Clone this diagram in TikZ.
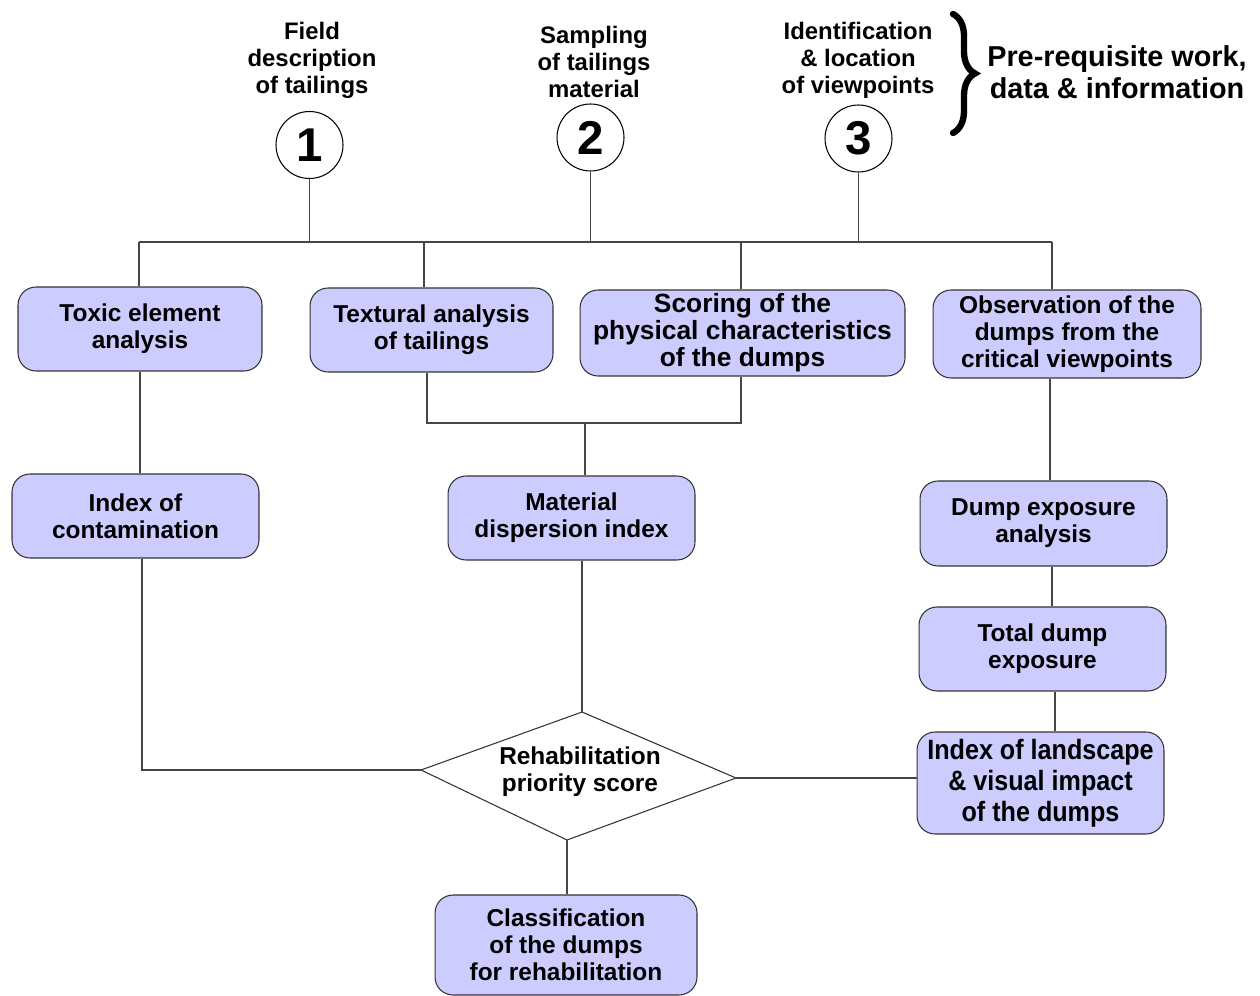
\documentclass[tikz,border=0pt]{standalone}
\usepackage{fontspec}
\setmainfont{Liberation Sans}
\newfontfamily\narrowsans[FakeStretch=0.9]{Liberation Sans}
\usetikzlibrary{decorations.pathreplacing}
\definecolor{boxfill}{RGB}{204,204,255}
\definecolor{linegray}{RGB}{70,70,70}

\begin{document}
\begin{tikzpicture}[x=0.02cm,y=-0.02cm,
  box/.style={draw=black!80, line width=0.6pt, fill=boxfill, rounded corners=0.36cm,
    align=center, inner sep=0pt, font=\bfseries\fontsize{13.9}{15.3}\selectfont},
  toplabel/.style={align=center, font=\bfseries\fontsize{13.6}{15.3}\selectfont},
  num/.style={circle, draw=black, line width=0.6pt, fill=white, minimum size=1.34cm,
    inner sep=0pt, font=\bfseries\fontsize{27}{27}\selectfont},
  link/.style={draw=linegray, line width=0.6pt}]

\useasboundingbox (0,0) rectangle (1260,996);

% pre-requisite inputs
\node[toplabel] (l1) at (312,60) {Field\\description\\of tailings};
\node[toplabel] (l2) at (594,62) {Sampling\\of tailings\\material};
\node[toplabel] (l3) at (858,60) {Identification\\\& location\\of viewpoints};
\node[num] (c1) at (309.5,145) {1};
\node[num] (c2) at (590.5,137.5) {2};
\node[num] (c3) at (858.5,138.5) {3};

\draw[line width=3.6pt, line cap=round, decorate, decoration={brace, amplitude=0.44cm}] (953,14) -- (953,133);
\node[align=center, font=\bfseries\fontsize{16.4}{18.1}\selectfont] (pre) at (1117,72)
  {Pre-requisite work,\\data \& information};

% analysis boxes
\node[box, minimum width=4.88cm, minimum height=1.68cm] (toxic) at (140,329) {Toxic element\\analysis};
\node[box, minimum width=4.86cm, minimum height=1.68cm] (textural) at (431.5,330) {Textural analysis\\of tailings};
\node[box, minimum width=6.5cm, minimum height=1.72cm, font=\bfseries\fontsize{15}{15.3}\selectfont]
  (scoring) at (742.5,333) {Scoring of the\\physical characteristics\\of the dumps};
\node[box, minimum width=5.36cm, minimum height=1.76cm] (observation) at (1067,334)
  {Observation of the\\dumps from the\\critical viewpoints};

\node[box, minimum width=4.94cm, minimum height=1.68cm] (contamination) at (135.5,516) {Index of\\contamination};
\node[box, minimum width=4.94cm, minimum height=1.68cm] (material) at (571.5,518) {Material\\dispersion index};
\node[box, minimum width=4.94cm, minimum height=1.70cm] (dumpexp) at (1043.5,523.5) {Dump exposure\\analysis};
\node[box, minimum width=4.94cm, minimum height=1.68cm] (total) at (1042.5,649) {Total dump\\exposure};
\node[box, minimum width=4.94cm, minimum height=2.04cm, font=\narrowsans\bfseries\fontsize{15.9}{17.6}\selectfont]
  (landscape) at (1040.5,783) {Index of landscape\\\& visual impact\\of the dumps};
\node[box, minimum width=5.24cm, minimum height=2.0cm] (classification) at (566,945)
  {Classification\\of the dumps\\for rehabilitation};

% decision diamond
\coordinate (dW) at (421,770);
\coordinate (dN) at (582,712);
\coordinate (dE) at (736,778);
\coordinate (dS) at (567,840);
\draw[draw=black!80, line width=0.6pt, fill=white] (dW) -- (dN) -- (dE) -- (dS) -- cycle;
\node[align=center, font=\bfseries\fontsize{13.9}{15.3}\selectfont] (score) at (580,772)
  {Rehabilitation\\priority score};

% distribution bus from the inputs
\coordinate (busL) at (139,242);
\coordinate (busR) at (1052,242);
\coordinate (dTex) at (424,242);
\coordinate (dSco) at (741,242);
\draw[link] (busL) -- (busR);
\draw[link] (c1.south) -- (c1.south |- busL);
\draw[link] (c2.south) -- (c2.south |- busL);
\draw[link] (c3.south) -- (c3.south |- busL);
\draw[link] (busL) -- (busL |- toxic.north);
\draw[link] (dTex) -- (dTex |- textural.north);
\draw[link] (dSco) -- (dSco |- scoring.north);
\draw[link] (busR) -- (busR |- observation.north);

% left branch
\draw[link] (toxic.south) -- (toxic.south |- contamination.north);
\coordinate (cA) at (142,770);
\draw[link] (cA |- contamination.south) -- (cA) -- (dW);

% middle branch
\coordinate (jL) at (427,423);
\coordinate (jR) at (741,423);
\coordinate (jM) at (585,423);
\draw[link] (jL |- textural.south) -- (jL) -- (jR) -- (jR |- scoring.south);
\draw[link] (jM) -- (jM |- material.north);
\draw[link] (dN |- material.south) -- (dN);

% right branch
\coordinate (xObs) at (1050,400);
\coordinate (xDump) at (1052,600);
\coordinate (xTot) at (1055,700);
\draw[link] (xObs |- observation.south) -- (xObs |- dumpexp.north);
\draw[link] (xDump |- dumpexp.south) -- (xDump |- total.north);
\draw[link] (xTot |- total.south) -- (xTot |- landscape.north);
\draw[link] (dE) -- (dE -| landscape.west);

% result
\draw[link] (dS) -- (dS |- classification.north);

\end{tikzpicture}
\end{document}
